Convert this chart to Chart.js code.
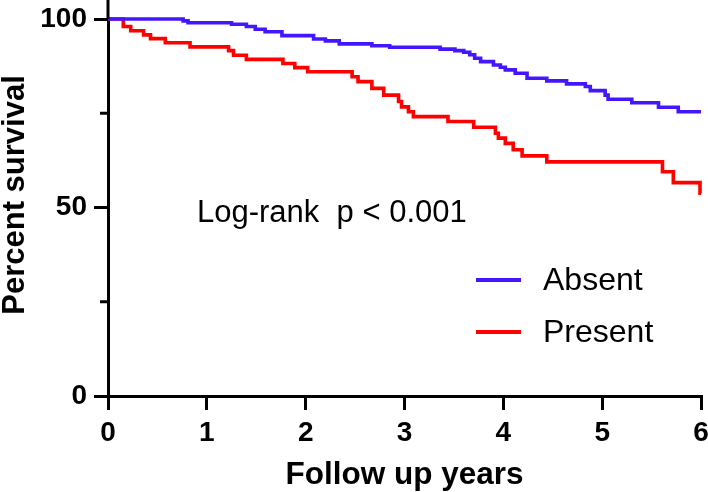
<!DOCTYPE html>
<html>
<head>
<meta charset="utf-8">
<script src="https://cdn.jsdelivr.net/npm/chart.js@4.4.1/dist/chart.umd.min.js"></script>
<style>
  html, body { margin: 0; padding: 0; background: #fff; }
  #wrap { width: 708px; height: 492px; }
</style>
</head>
<body>
<div id="wrap"><canvas id="km"></canvas></div>
<script>
// Kaplan-Meier steps (years, percent surviving)
const absentYears = [0, 0.76, 0.81, 1.25, 1.40, 1.49, 1.59, 1.76, 2.08, 2.20, 2.34, 2.67, 2.85, 3.36, 3.51, 3.60, 3.66, 3.71, 3.77, 3.90, 3.97, 4.02, 4.12, 4.24, 4.44, 4.64, 4.83, 4.88, 5.03, 5.06, 5.30, 5.57, 5.77, 6.0];
const absentSurvival = [100, 99.5, 99.0, 98.6, 98.0, 97.3, 96.6, 95.6, 94.7, 94.2, 93.4, 92.9, 92.5, 92.0, 91.6, 91.2, 90.5, 89.6, 88.7, 87.8, 87.2, 86.5, 85.6, 84.3, 83.6, 82.8, 82.1, 81.0, 79.8, 78.7, 77.8, 76.6, 75.4, 75.4];

const presentYears = [0, 0.155, 0.23, 0.36, 0.43, 0.58, 0.83, 1.22, 1.27, 1.40, 1.77, 1.89, 2.02, 2.47, 2.53, 2.67, 2.79, 2.94, 2.97, 3.04, 3.09, 3.44, 3.70, 3.92, 3.95, 4.02, 4.10, 4.19, 4.44, 5.61, 5.72, 5.99, 6.0];
const presentSurvival = [100, 98.0, 96.9, 95.8, 94.8, 93.7, 92.6, 91.6, 90.4, 89.3, 88.2, 87.1, 86.0, 84.7, 83.4, 81.6, 79.8, 78.1, 76.7, 75.4, 74.1, 72.8, 71.3, 69.7, 68.4, 67.0, 65.3, 63.7, 62.1, 59.5, 56.6, 53.8, 53.8];

const seriesLabels = ["Absent", "Present"];
const yMinorTicks = [25, 75];
const annotationText = "Log-rank  p < 0.001";
const yTitle = "Percent survival";

const FONT = "'Liberation Sans', Arial, Helvetica, sans-serif";
const COLORS = ["#4416ff", "#ff0000"];

function toPoints(xs, ys) {
  return xs.map((x, i) => ({ x, y: ys[i] }));
}

// axis extension, minor ticks, y title, legend and log-rank text
const decorPlugin = {
  id: "decor",
  afterDraw(chart) {
    const { ctx, chartArea, scales } = chart;
    const y = scales.y;
    ctx.save();
    ctx.strokeStyle = "#000";
    ctx.lineWidth = 3;
    ctx.beginPath();
    ctx.moveTo(chartArea.left, 0);
    ctx.lineTo(chartArea.left, chartArea.top);
    yMinorTicks.forEach(v => {
      const py = y.getPixelForValue(v);
      ctx.moveTo(chartArea.left - 8, py);
      ctx.lineTo(chartArea.left, py);
    });
    ctx.stroke();

    ctx.fillStyle = "#000";

    // y axis title
    ctx.save();
    ctx.translate(24, 195);
    ctx.rotate(-Math.PI / 2);
    ctx.font = `bold 31px ${FONT}`;
    ctx.textAlign = "center";
    ctx.textBaseline = "alphabetic";
    ctx.fillText(yTitle, 0, 0);
    ctx.restore();

    // legend
    ctx.font = `32px ${FONT}`;
    ctx.textBaseline = "middle";
    const legendY = [280, 332];
    chart.data.datasets.forEach((ds, i) => {
      ctx.strokeStyle = ds.borderColor;
      ctx.lineWidth = 4;
      ctx.beginPath();
      ctx.moveTo(476, legendY[i]);
      ctx.lineTo(521, legendY[i]);
      ctx.stroke();
      ctx.fillText(ds.label, 543, legendY[i] + 1);
    });

    ctx.font = `31px ${FONT}`;
    ctx.fillText(annotationText, 197, 213);
    ctx.restore();
  },
};

new Chart(document.getElementById("km"), {
  type: "line",
  data: {
    datasets: [
      {
        label: seriesLabels[0],
        data: toPoints(absentYears, absentSurvival),
        borderColor: COLORS[0],
        borderWidth: 3.6,
        pointRadius: 0,
        stepped: true,
        clip: 6,
      },
      {
        label: seriesLabels[1],
        data: toPoints(presentYears, presentSurvival),
        borderColor: COLORS[1],
        borderWidth: 3.6,
        pointRadius: 0,
        stepped: true,
        clip: 6,
      },
    ],
  },
  options: {
    responsive: true,
    maintainAspectRatio: false,
    animation: false,
    layout: { padding: { left: 0, right: 7, top: 19, bottom: 0 } },
    plugins: {
      legend: { display: false },
      tooltip: { enabled: false },
    },
    scales: {
      x: {
        type: "linear",
        min: 0,
        max: 6,
        afterFit: s => { s.height = 96; s.paddingLeft = 0; s.paddingRight = 0; },
        border: { color: "#000", width: 3 },
        grid: { drawOnChartArea: false, color: "#000", lineWidth: 3, tickLength: 14 },
        ticks: {
          stepSize: 1,
          color: "#000",
          padding: 6,
          maxRotation: 0,
          font: { family: FONT, size: 28, weight: "bold" },
        },
        title: {
          display: true,
          text: "Follow up years",
          color: "#000",
          padding: { top: 0, bottom: -2 },
          font: { family: FONT, size: 31.5, weight: "bold" },
        },
      },
      y: {
        min: 0,
        max: 100,
        afterFit: s => { s.width = 108; s.paddingTop = 0; s.paddingBottom = 0; },
        border: { color: "#000", width: 3 },
        grid: { drawOnChartArea: false, color: "#000", lineWidth: 3, tickLength: 14 },
        ticks: {
          stepSize: 50,
          color: "#000",
          padding: 7,
          font: { family: FONT, size: 28, weight: "bold" },
        },
      },
    },
  },
  plugins: [decorPlugin],
});
</script>
</body>
</html>
